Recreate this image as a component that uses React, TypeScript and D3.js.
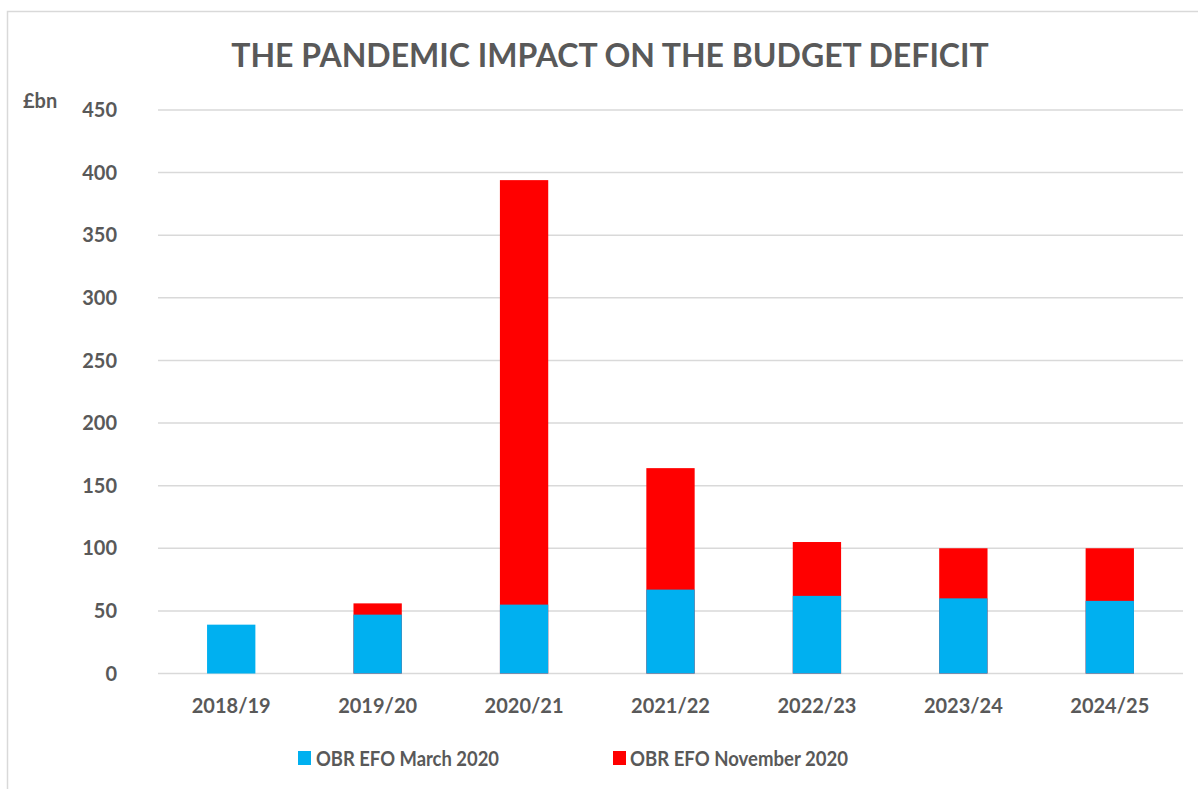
import { useMemo } from "react";
import * as d3 from "d3";

const WIDTH = 1198;
const HEIGHT = 789;
const MARGIN = { top: 110, right: 15, bottom: 115, left: 158 };

const categories = ["2018/19", "2019/20", "2020/21", "2021/22", "2022/23", "2023/24", "2024/25"];
const marchValues = [39, 47, 55, 67, 62, 60, 58];
// no November figure shown for 2018/19 (outturn)
const novemberValues: (number | null)[] = [null, 56, 394, 164, 105, 100, 100];
const yTicks = [0, 50, 100, 150, 200, 250, 300, 350, 400, 450];

const BLUE = "#00B0F0";
const RED = "#FF0000";
const TEXT = "#595959";
const FONT = "Lato, 'Open Sans', sans-serif";

export default function App() {
  const boundsWidth = WIDTH - MARGIN.left - MARGIN.right;
  const boundsHeight = 673.5 - MARGIN.top;

  const xScale = useMemo(
    () => d3.scaleBand().domain(categories).range([0, boundsWidth]).paddingInner(0.67).paddingOuter(0.335),
    [boundsWidth]
  );
  const yScale = useMemo(
    () => d3.scaleLinear().domain([0, 450]).range([boundsHeight, 0]),
    [boundsHeight]
  );

  return (
    <svg width={WIDTH} height={HEIGHT} style={{ position: "absolute", left: 0, top: 0 }} fontFamily={FONT}>
      <rect x={0} y={0} width={WIDTH} height={HEIGHT} fill="#fff" />
      {/* chart border */}
      <path d={`M7.5,${HEIGHT} V11.5 H${WIDTH}`} fill="none" stroke="#d9d9d9" strokeWidth={1.5} />
      <text x={610} y={67} textAnchor="middle" fontSize={32} fontWeight="bold" fill={TEXT}>
        THE PANDEMIC IMPACT ON THE BUDGET DEFICIT
      </text>
      <text x={23} y={108} fontSize={20} fontWeight="bold" fill={TEXT}>£bn</text>
      <g transform={`translate(${MARGIN.left},${MARGIN.top})`}>
        {yTicks.map((t) => (
          <g key={t}>
            <line x1={0} x2={boundsWidth} y1={yScale(t)} y2={yScale(t)} stroke="#d9d9d9" strokeWidth={1.5} />
            <text x={-41} y={yScale(t)} dy="0.36em" textAnchor="end" fontSize={20} fontWeight="bold" fill={TEXT}>
              {t}
            </text>
          </g>
        ))}
        {categories.map((c, i) => {
          const nov = novemberValues[i];
          return (
            <g key={c}>
              {nov !== null && (
                <rect
                  x={xScale(c)}
                  y={yScale(nov)}
                  width={xScale.bandwidth()}
                  height={boundsHeight - yScale(nov)}
                  fill={RED}
                />
              )}
              <rect
                x={xScale(c)}
                y={yScale(marchValues[i])}
                width={xScale.bandwidth()}
                height={boundsHeight - yScale(marchValues[i])}
                fill={BLUE}
              />
              <text
                x={(xScale(c) || 0) + xScale.bandwidth() / 2}
                y={boundsHeight + 39}
                textAnchor="middle"
                fontSize={20}
                fontWeight="bold"
                fill={TEXT}
              >
                {c}
              </text>
            </g>
          );
        })}
      </g>
      {/* legend */}
      <rect x={298} y={751} width={13} height={14} fill={BLUE} />
      <text x={316} y={766} fontSize={20} fontWeight="bold" fill={TEXT} textLength={183} lengthAdjust="spacingAndGlyphs">
        OBR EFO March 2020
      </text>
      <rect x={613} y={751} width={13} height={14} fill={RED} />
      <text x={630} y={766} fontSize={20} fontWeight="bold" fill={TEXT} textLength={218} lengthAdjust="spacingAndGlyphs">
        OBR EFO November 2020
      </text>
    </svg>
  );
}
